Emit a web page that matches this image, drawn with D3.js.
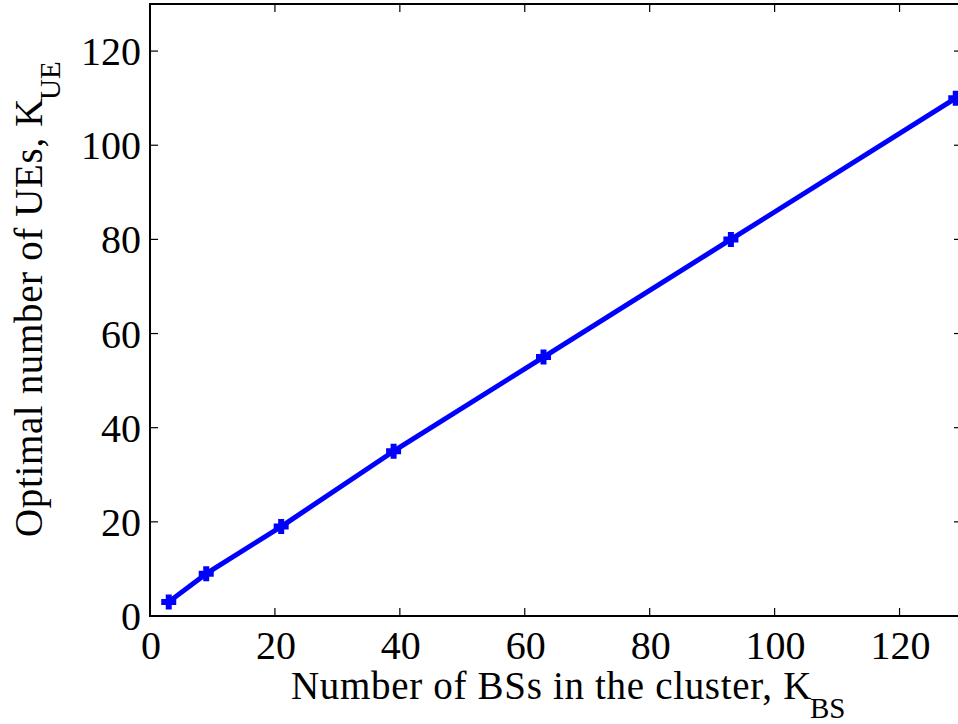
<!DOCTYPE html>
<html><head><meta charset="utf-8">
<script src="https://cdn.jsdelivr.net/npm/d3@7/dist/d3.min.js"></script>
<style>body{margin:0;background:#fff}svg{display:block}</style>
</head><body>
<script>
const kBS = [3, 9, 21, 39, 63, 93, 129];
const kUE = [3, 9, 19, 35, 55, 80, 110];
const xTicks = [0, 20, 40, 60, 80, 100, 120];
const yTicks = [0, 20, 40, 60, 80, 100, 120];

const W = 958, H = 724;
const FONT = "Liberation Serif";
const m = {left: 150, top: 4, right: 962, bottom: 616};
const svg = d3.select("body").append("svg").attr("width", W).attr("height", H);
const x = d3.scaleLinear().domain([0, 130]).range([m.left, m.right]);
const y = d3.scaleLinear().domain([0, 130]).range([m.bottom, m.top]);
const fs = 40;

svg.append("rect").attr("x", m.left).attr("y", m.top).attr("width", m.right - m.left).attr("height", m.bottom - m.top)
  .attr("fill", "none").attr("stroke", "#000").attr("stroke-width", 2);

const tl = 8;
const g = svg.append("g").attr("font-family", FONT);
xTicks.forEach(t => {
  g.append("line").attr("x1", x(t)).attr("x2", x(t)).attr("y1", m.bottom).attr("y2", m.bottom - tl).attr("stroke", "#000").attr("stroke-width", 1.2);
  g.append("line").attr("x1", x(t)).attr("x2", x(t)).attr("y1", m.top).attr("y2", m.top + tl).attr("stroke", "#000").attr("stroke-width", 1.2);
  g.append("text").attr("x", x(t) + 1).attr("y", m.bottom + 43).attr("text-anchor", "middle").attr("font-size", fs).text(t);
});
yTicks.forEach(t => {
  g.append("line").attr("x1", m.left).attr("x2", m.left + tl).attr("y1", y(t)).attr("y2", y(t)).attr("stroke", "#000").attr("stroke-width", 1.2);
  g.append("line").attr("x1", m.right).attr("x2", m.right - tl).attr("y1", y(t)).attr("y2", y(t)).attr("stroke", "#000").attr("stroke-width", 1.2);
  g.append("text").attr("x", m.left - 9).attr("y", y(t) + 14).attr("text-anchor", "end").attr("font-size", fs).text(t);
});

const pts = kBS.map((v, i) => [v, kUE[i]]);
svg.append("path").datum(pts).attr("fill", "none").attr("stroke", "#0000ff").attr("stroke-width", 5)
  .attr("stroke-linejoin", "round")
  .attr("d", d3.line().x(d => x(d[0])).y(d => y(d[1])));
const ms = 7.5;
svg.append("g").selectAll("path").data(pts).join("path")
  .attr("d", d => `M${x(d[0]) - ms},${y(d[1])}H${x(d[0]) + ms}M${x(d[0])},${y(d[1]) - ms}V${y(d[1]) + ms}`)
  .attr("stroke", "#0000ff").attr("stroke-width", 6).attr("fill", "none");

function fit(tspan, target) {
  const n = tspan.text().length;
  const len = tspan.node().getComputedTextLength();
  tspan.attr("letter-spacing", (target - len) / n);
}

// x label
const xl = svg.append("text").attr("font-family", FONT).attr("x", 291).attr("y", 699).attr("font-size", 39);
const xm = xl.append("tspan").text("Number of BSs in the cluster, K");
fit(xm, 521);
xl.append("tspan").attr("dy", 19).attr("dx", -2).attr("font-size", 29).text("BS");

// y label
const yl = svg.append("text").attr("font-family", FONT).attr("transform", `translate(42,537) rotate(-90)`).attr("font-size", 39);
const ym = yl.append("tspan").text("Optimal number of UEs, K");
fit(ym, 439);
yl.append("tspan").attr("dy", 18).attr("dx", -2).attr("font-size", 29).text("UE");
</script>
</body></html>
